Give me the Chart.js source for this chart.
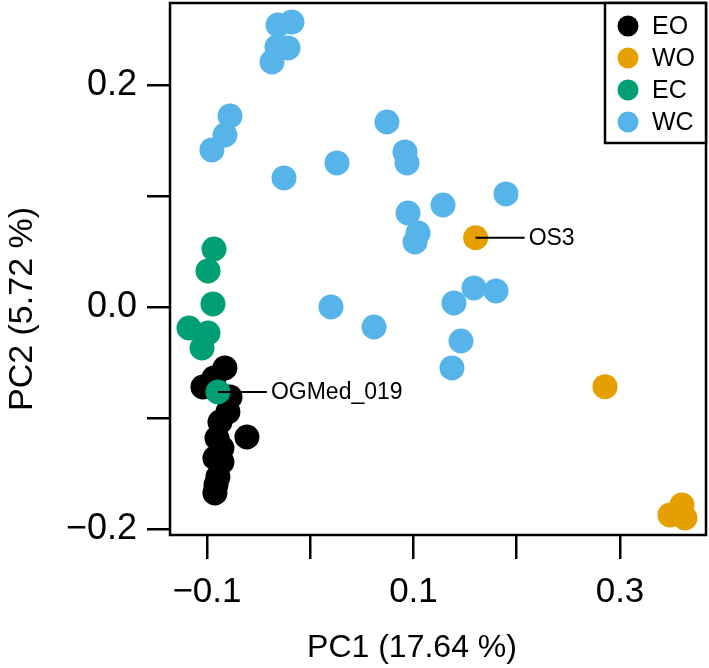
<!DOCTYPE html>
<html>
<head>
<meta charset="utf-8">
<script src="https://cdn.jsdelivr.net/npm/chart.js@4.4.1/dist/chart.umd.min.js"></script>
<style>
  body { margin: 0; background: #fff; }
  canvas { display: block; }
</style>
</head>
<body>
<canvas id="pcaChart" width="709" height="668"></canvas>
<script>
// PCA scatter: PC1 vs PC2, four sample groups

var groupNames = ['EO', 'WO', 'EC', 'WC'];
var groupColors = ['#000000', '#E69F00', '#009E73', '#56B4E9'];

// EO (black)
var eoX = [-0.0826, -0.0932, -0.1039, -0.0777, -0.0797, -0.0874, -0.0613, -0.0903, -0.0855, -0.0923, -0.0855, -0.0894, -0.0913, -0.0923];
var eoY = [-0.0545, -0.0635, -0.0716, -0.0806, -0.0941, -0.1032, -0.1167, -0.1176, -0.1266, -0.1356, -0.1392, -0.1527, -0.1599, -0.1671];

// WO (orange)
var woX = [0.2855, 0.3484, 0.3600, 0.3629];
var woY = [-0.0714, -0.1869, -0.1779, -0.1896];

// EC (green)
var ecX = [-0.0932, -0.0990, -0.0942, -0.1174, -0.0990, -0.1048];
var ecY = [0.0527, 0.0329, 0.0032, -0.0185, -0.0230, -0.0365];

// WC (light blue)
var wcX = [-0.0312, -0.0177, -0.0322, -0.0215, -0.0370, -0.0777, -0.0826, -0.0952, -0.0254, 0.0259, 0.0743, 0.0918, 0.0937, 0.0947, 0.1044, 0.1015, 0.1286, 0.1896, 0.1586, 0.1799, 0.1392, 0.1460, 0.1373, 0.0201, 0.0618];
var wcY = [0.2545, 0.2572, 0.2347, 0.2338, 0.2212, 0.1725, 0.1554, 0.1419, 0.1167, 0.1302, 0.1671, 0.1401, 0.1302, 0.0851, 0.0671, 0.0590, 0.0923, 0.1023, 0.0176, 0.0149, 0.0041, -0.0302, -0.0545, 0.0005, -0.0176];

// labelled samples (drawn on top, with a leader line and name)
var labelNames = ['OGMed_019', 'OS3'];
var labelGroups = ['EC', 'WO'];
var labelX = [-0.0894, 0.1602];
var labelY = [-0.0761, 0.0628];

// axis ticks
var xTicks = [-0.1, 0.0, 0.1, 0.2, 0.3];
var xTickLabels = [-0.1, 0.1, 0.3];
var yTicks = [-0.2, -0.1, 0.0, 0.1, 0.2];
var yTickLabels = [-0.2, 0.0, 0.2];

var xTitle = 'PC1 (17.64 %)';
var yTitle = 'PC2 (5.72 %)';

function toPoints(xs, ys) {
    var pts = [];
    for (var i = 0; i < xs.length; i++) {
        pts.push({ x: xs[i], y: ys[i] });
    }
    return pts;
}

function colorOf(group) {
    return groupColors[groupNames.indexOf(group)];
}

function hasLabel(list, v) {
    for (var i = 0; i < list.length; i++) {
        if (Math.abs(list[i] - v) < 1e-9) return true;
    }
    return false;
}

function fmt(v) {
    var s = Math.abs(v).toFixed(1);
    return v < -1e-9 ? '\u2212' + s : s;
}

var FONT = "'Liberation Sans', Arial, Helvetica, sans-serif";

function pointSet(data, color) {
    return {
        data: data,
        backgroundColor: color,
        borderColor: color,
        borderWidth: 0,
        pointRadius: 12.5,
        pointHoverRadius: 12.5
    };
}

// labelled point set uses per-point colours
var labelColors = labelGroups.map(colorOf);

// box, legend, titles and point labels
var decorPlugin = {
    id: 'decor',
    afterDraw: function (chart) {
        var ctx = chart.ctx;
        var area = chart.chartArea;
        var xs = chart.scales.x;
        var ys = chart.scales.y;

        ctx.save();

        // leader lines + names
        ctx.strokeStyle = '#000';
        ctx.lineWidth = 2;
        ctx.fillStyle = '#000';
        ctx.font = '23px ' + FONT;
        ctx.textBaseline = 'middle';
        ctx.textAlign = 'left';
        for (var i = 0; i < labelNames.length; i++) {
            var px = xs.getPixelForValue(labelX[i]);
            var py = ys.getPixelForValue(labelY[i]);
            ctx.beginPath();
            ctx.moveTo(px, py);
            ctx.lineTo(px + 49, py);
            ctx.stroke();
            ctx.fillText(labelNames[i], px + 53, py + 1);
        }

        // plot box
        ctx.lineWidth = 2.5;
        ctx.strokeRect(area.left, area.top, area.right - area.left, area.bottom - area.top);

        // legend
        var lgLeft = 605, lgTop = area.top, lgRight = area.right, lgBottom = 143;
        ctx.fillStyle = '#fff';
        ctx.fillRect(lgLeft, lgTop, lgRight - lgLeft, lgBottom - lgTop);
        ctx.strokeRect(lgLeft, lgTop, lgRight - lgLeft, lgBottom - lgTop);
        ctx.font = '25px ' + FONT;
        for (var j = 0; j < groupNames.length; j++) {
            var ry = 26 + j * 32;
            ctx.fillStyle = groupColors[j];
            ctx.beginPath();
            ctx.arc(628, ry, 10.5, 0, Math.PI * 2);
            ctx.fill();
            ctx.fillStyle = '#000';
            ctx.fillText(groupNames[j], 652, ry + 1);
        }

        // axis titles
        ctx.font = '32px ' + FONT;
        ctx.textAlign = 'center';
        ctx.fillText(xTitle, 412, 648);
        ctx.font = '34px ' + FONT;
        ctx.translate(23, 309);
        ctx.rotate(-Math.PI / 2);
        ctx.fillText(yTitle, 0, 0);

        ctx.restore();
    }
};

var ctx = document.getElementById('pcaChart').getContext('2d');
var pcaChart = new Chart(ctx, {
    type: 'scatter',
    data: {
        datasets: [
            {
                data: toPoints(labelX, labelY),
                backgroundColor: labelColors,
                borderColor: labelColors,
                borderWidth: 0,
                pointRadius: 12.5,
                pointHoverRadius: 12.5
            },
            pointSet(toPoints(eoX, eoY), groupColors[0]),
            pointSet(toPoints(woX, woY), groupColors[1]),
            pointSet(toPoints(ecX, ecY), groupColors[2]),
            pointSet(toPoints(wcX, wcY), groupColors[3])
        ]
    },
    options: {
        responsive: false,
        animation: false,
        devicePixelRatio: 1,
        layout: {
            autoPadding: false,
            padding: { left: 0, right: 3, top: 3, bottom: 0 }
        },
        plugins: {
            legend: { display: false },
            tooltip: { enabled: false }
        },
        scales: {
            x: {
                type: 'linear',
                min: -0.1358,
                max: 0.3833,
                afterBuildTicks: function (scale) {
                    scale.ticks = xTicks.map(function (v) { return { value: v }; });
                },
                afterFit: function (scale) {
                    scale.height = 133;
                    scale.paddingLeft = 0;
                    scale.paddingRight = 0;
                },
                border: { display: false },
                grid: {
                    drawOnChartArea: false,
                    drawTicks: true,
                    tickLength: 24,
                    color: '#000',
                    lineWidth: 2.5
                },
                ticks: {
                    autoSkip: false,
                    maxRotation: 0,
                    padding: 12,
                    color: '#000',
                    font: { family: FONT, size: 35 },
                    callback: function (v) { return hasLabel(xTickLabels, v) ? fmt(v) : ''; }
                }
            },
            y: {
                type: 'linear',
                min: -0.2050,
                max: 0.2743,
                afterBuildTicks: function (scale) {
                    scale.ticks = yTicks.map(function (v) { return { value: v }; });
                },
                afterFit: function (scale) {
                    scale.width = 170;
                    scale.paddingTop = 0;
                    scale.paddingBottom = 0;
                },
                border: { display: false },
                grid: {
                    drawOnChartArea: false,
                    drawTicks: true,
                    tickLength: 23,
                    color: '#000',
                    lineWidth: 2.5
                },
                ticks: {
                    autoSkip: false,
                    padding: 10,
                    color: '#000',
                    font: { family: FONT, size: 36 },
                    callback: function (v) { return hasLabel(yTickLabels, v) ? fmt(v) : ''; }
                }
            }
        }
    },
    plugins: [decorPlugin]
});
</script>
</body>
</html>
